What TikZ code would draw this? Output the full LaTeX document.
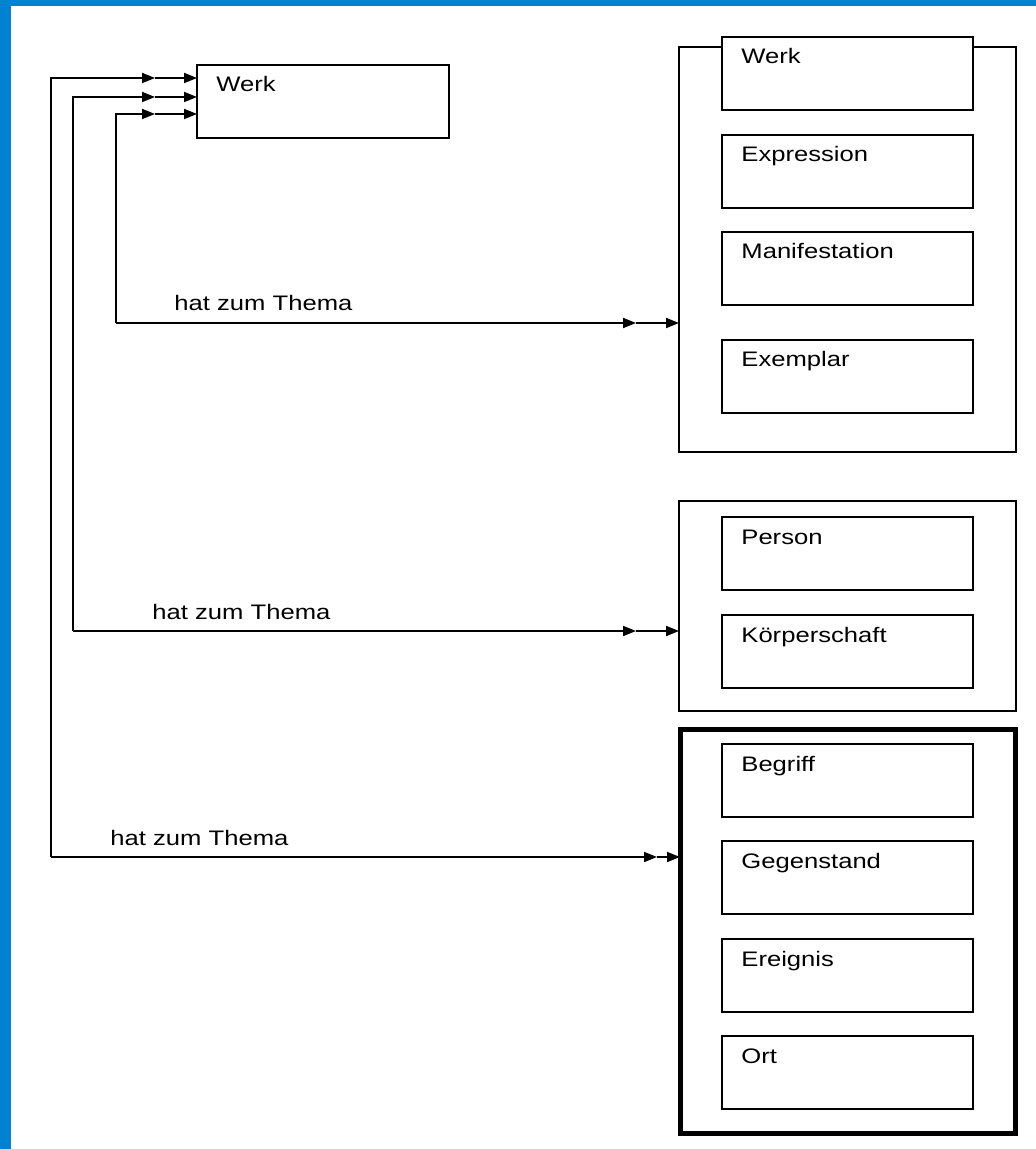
\documentclass[tikz,border=0pt]{standalone}
\usepackage{fontspec}
\setmainfont{Liberation Sans}[FakeStretch=1.22]
\usetikzlibrary{arrows.meta}
\definecolor{frameblue}{RGB}{0,130,210}

\begin{document}
\begin{tikzpicture}[x=0.5pt, y=-0.5pt, font=\fontsize{10.5pt}{12pt}\selectfont,
    box/.style={draw, fill=white, line width=0.9pt, anchor=north west, inner sep=0pt, outer sep=0pt, minimum width=125.5pt, minimum height=36.5pt},
    grp/.style={draw, line width=0.9pt, anchor=north west, inner sep=0pt, outer sep=0pt, minimum width=168.5pt},
    lbl/.style={anchor=base west, inner sep=0pt, xshift=9.5pt, yshift=-13.5pt},
    txt/.style={anchor=base west, inner sep=0pt},
    arr/.style={-{Triangle[length=6.5pt,width=5pt]}, line width=0.9pt}]
    \useasboundingbox (0,0) rectangle (1036,1149);
    \fill[frameblue] (0,0) rectangle (11,1149);
    \fill[frameblue] (0,0) rectangle (1036,6);

    % left side
    \node [box, minimum width=126pt, label={[lbl]north west:Werk}] (werk) at (197,65) {};

    % right side, first group
    \node [grp, minimum height=202.5pt] (g1) at (679,47) {};
    \node [box, label={[lbl]north west:Werk}] (w1) at (722,37) {};
    \node [box, label={[lbl]north west:Expression}] (w2) at (722,135) {};
    \node [box, label={[lbl]north west:Manifestation}] (w3) at (722,232) {};
    \node [box, label={[lbl]north west:Exemplar}] (w4) at (722,340) {};

    % second group
    \node [grp, minimum height=105pt] (g2) at (679,501) {};
    \node [box, label={[lbl]north west:Person}] (p1) at (722,517) {};
    \node [box, label={[lbl]north west:Körperschaft}] (p2) at (722,615) {};

    % third group
    \node [grp, line width=2.5pt, minimum width=167.5pt, minimum height=202pt] (g3) at (680,729) {};
    \node [box, label={[lbl]north west:Begriff}] (s1) at (722,744) {};
    \node [box, label={[lbl]north west:Gegenstand}] (s2) at (722,841) {};
    \node [box, label={[lbl]north west:Ereignis}] (s3) at (722,939) {};
    \node [box, label={[lbl]north west:Ort}] (s4) at (722,1036) {};

    \coordinate (a1) at (51,78);  \coordinate (b1) at (51,857);
    \coordinate (m1) at (155,78); \coordinate (n1) at (657,857);
    \coordinate (a2) at (73,97);  \coordinate (b2) at (73,631);
    \coordinate (m2) at (155,97); \coordinate (n2) at (636,631);
    \coordinate (a3) at (116,114); \coordinate (b3) at (116,323);
    \coordinate (m3) at (155,114); \coordinate (n3) at (636,323);

    \draw [arr] (b1) -- (a1) -- (m1);
    \draw [arr] (m1) -- (werk.west |- m1);
    \draw [arr] (b1) -- (n1);
    \draw [arr] (n1) -- (g3.west |- n1);

    \draw [arr] (b2) -- (a2) -- (m2);
    \draw [arr] (m2) -- (werk.west |- m2);
    \draw [arr] (b2) -- (n2);
    \draw [arr] (n2) -- (g2.west |- n2);

    \draw [arr] (b3) -- (a3) -- (m3);
    \draw [arr] (m3) -- (werk.west |- m3);
    \draw [arr] (b3) -- (n3);
    \draw [arr] (n3) -- (g1.west |- n3);

    \node [txt] (t3) at (174,311) {hat zum Thema};
    \node [txt] (t2) at (152,619) {hat zum Thema};
    \node [txt] (t1) at (110,845) {hat zum Thema};
\end{tikzpicture}
\end{document}
